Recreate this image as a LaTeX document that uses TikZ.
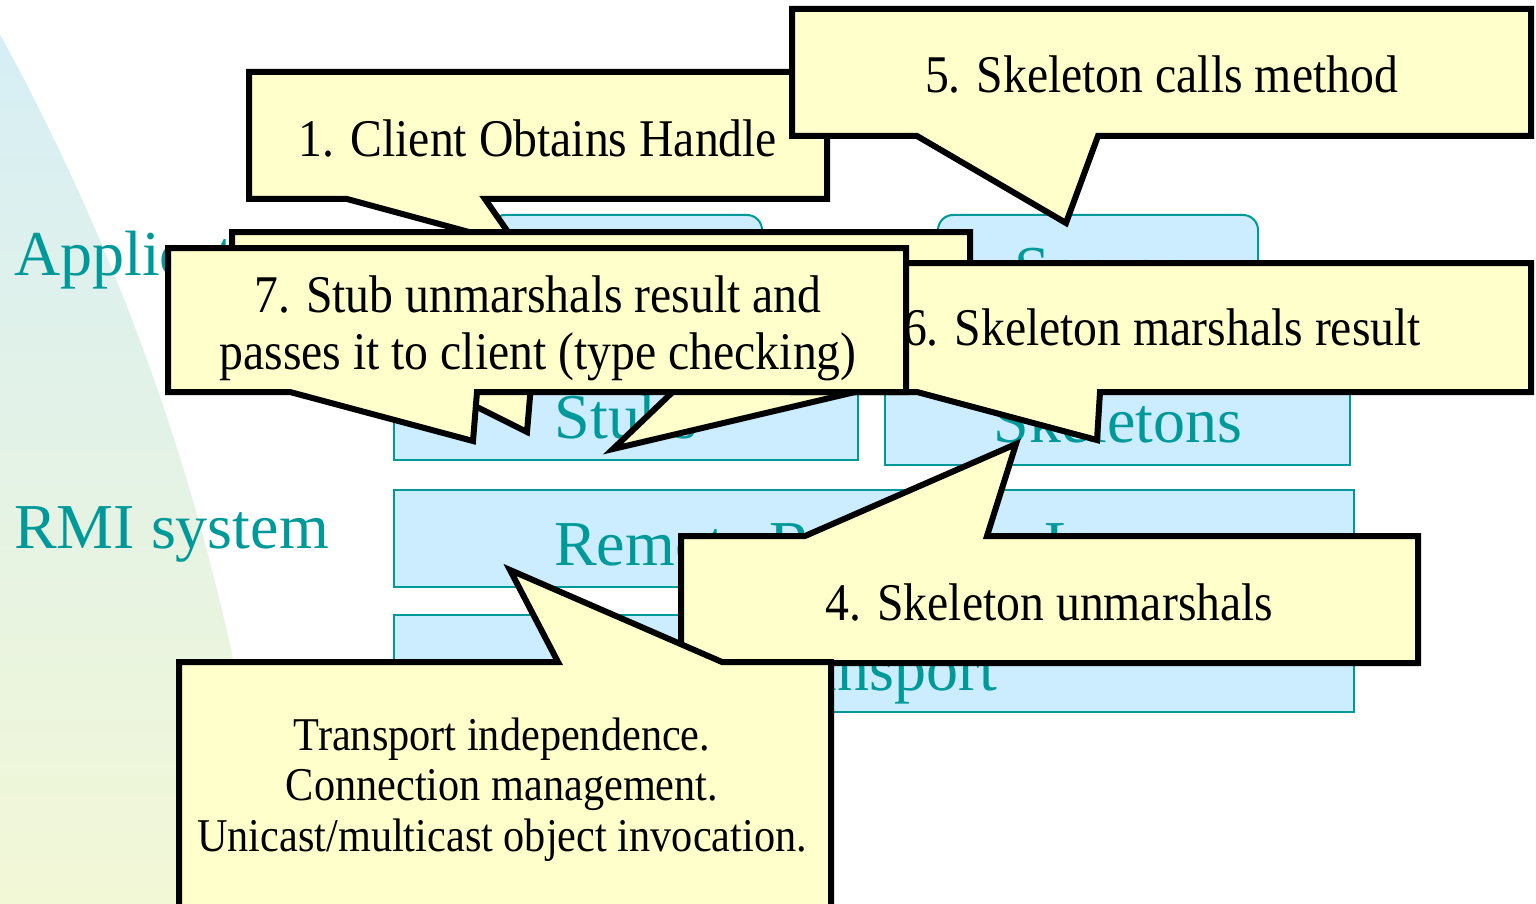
\documentclass[tikz,border=0pt]{standalone}
\usepackage{fontspec}
\setmainfont{Liberation Serif}
\newfontfamily\calloutfont[FakeStretch=0.9]{Liberation Serif}

\definecolor{calloutfill}{RGB}{255,255,204}
\definecolor{layerfill}{RGB}{204,236,255}
\definecolor{layerteal}{RGB}{0,153,153}
\definecolor{bgtop}{RGB}{213,238,246}
\definecolor{bgbottom}{RGB}{242,247,214}

\tikzset{
  callout/.style={draw=black, fill=calloutfill, line width=6pt, line join=miter, miter limit=10},
  layerbox/.style={draw=layerteal, fill=layerfill, line width=2pt},
  layertext/.style={text=layerteal, font=\fontsize{64}{70}\selectfont, inner sep=0pt, anchor=base},
  sidetext/.style={layertext, anchor=base west},
  callouttext/.style={font=\calloutfont\fontsize{53}{58}\selectfont, inner sep=0pt, anchor=base},
  notetext/.style={font=\calloutfont\fontsize{47}{50}\selectfont, inner sep=0pt, anchor=base}
}

\begin{document}
\begin{tikzpicture}[x=1pt,y=-1pt]
\useasboundingbox (0,0) rectangle (1536,904);
\clip (0,0) rectangle (1536,904);

% soft backdrop: part of a large disc at the left
\begin{scope}
  \clip (-2055.7,1157.3) circle [radius=2342pt];
  \shade[top color=bgtop, bottom color=bgbottom] (0,0) rectangle (320,904);
\end{scope}

% level labels
\node[sidetext] (applabel) at (14,275) {Application};
\node[sidetext] (rmilabel) at (14,548) {RMI system};

% layer boxes
\draw[layerbox, rounded corners=15pt] (490,215) rectangle (762,330);
\draw[layerbox, rounded corners=15pt] (938,215) rectangle (1258,330);
\node[layertext] (server) at (1098,290) {Server};
\draw[layerbox] (394,345) rectangle (858,460);
\node[layertext] (stubs) at (626,438) {Stubs};
\draw[layerbox] (885,345) rectangle (1350,465);
\node[layertext] (skeletons) at (1118,442) {Skeletons};
\draw[layerbox] (394,490) rectangle (1354,587);
\node[layertext] (rrl) at (874,565) {Remote Reference Layer};
\draw[layerbox] (394,615) rectangle (1354,712);
\node[layertext] (transport) at (874,690) {Transport};

% callout 1
\draw[callout] (249,72) -- (827,72) -- (827,199) -- (485,199) -- (517,245)
  -- (347,199) -- (249,199) -- cycle;
\node[callouttext] (c1) at (538,157) {1. Client Obtains Handle};

% callout 5
\draw[callout] (792,9) -- (1531,9) -- (1531,136) -- (1098,136) -- (1066,223)
  -- (917,136) -- (792,136) -- cycle;
\node[callouttext] (c5) at (1161.5,93) {5. Skeleton calls method};

% callouts 2 and 3 (stacked beneath callout 7)
\draw[callout] (232,232) -- (970,232) -- (970,385) -- (531,385) -- (527,432)
  -- (433,385) -- (232,385) -- cycle;
\draw[callout] (190,258) -- (900,258) -- (900,385) -- (885,385) -- (613,449)
  -- (680,385) -- (190,385) -- cycle;

% callout 6
\draw[callout] (793,263) -- (1531,263) -- (1531,392) -- (1100,392) -- (1097,440)
  -- (917,392) -- (793,392) -- cycle;
\node[callouttext] (c6) at (1162,345) {6. Skeleton marshals result};

% callout 7
\draw[callout] (168,248) -- (906,248) -- (906,392) -- (477,392) -- (473,441)
  -- (290,392) -- (168,392) -- cycle;
\node[callouttext] (c7a) at (538,312) {7. Stub unmarshals result and};
\node[callouttext] (c7b) at (538,369) {passes it to client (type checking)};

% callout 4
\draw[callout] (681,536) -- (805,536) -- (1016,444) -- (987,536) -- (1418,536)
  -- (1418,663) -- (681,663) -- cycle;
\node[callouttext] (c4) at (1049.5,620) {4. Skeleton unmarshals};

% callout on the reference layer
\draw[callout] (179,662) -- (558,662) -- (510,570) -- (722,662) -- (831,662)
  -- (831,940) -- (179,940) -- cycle;
\node[notetext] (n1) at (502,750) {Transport independence.};
\node[notetext] (n2) at (502,800) {Connection management.};
\node[notetext] (n3) at (502,851) {Unicast/multicast object invocation.};
\end{tikzpicture}
\end{document}
